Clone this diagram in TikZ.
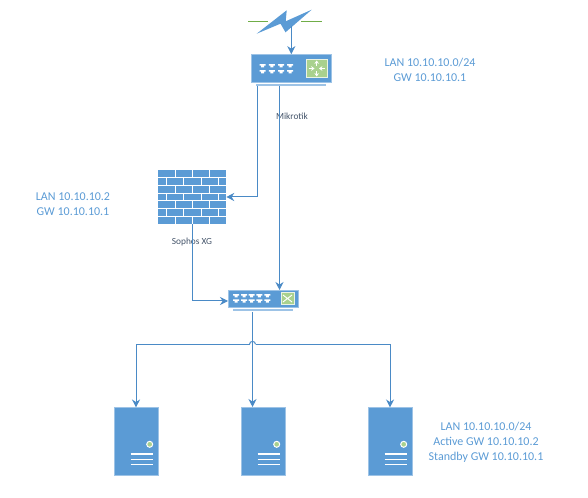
\documentclass[tikz,border=0pt]{standalone}
\usepackage{fontspec}
\setmainfont{Carlito}
\usetikzlibrary{arrows.meta}
\definecolor{boxblue}{HTML}{5B9BD5}
\definecolor{wireblue}{HTML}{4A8AC6}
\definecolor{edgeblue}{HTML}{9DC3E6}
\definecolor{leafgreen}{HTML}{A9D18E}
\definecolor{boltgreen}{HTML}{70AD47}
\definecolor{slate}{HTML}{44546A}
\begin{document}
\begin{tikzpicture}[
  x=0.75pt, y=-0.75pt,
  wire/.style={draw=wireblue, line width=0.75pt},
  feed/.style={wire, -{Stealth[length=6pt,width=6pt]}},
  unit/.style={rectangle, fill=boxblue, draw=edgeblue, line width=0.5pt, inner sep=0pt},
  bar/.style={rectangle, fill=edgeblue, inner sep=0pt, minimum height=1.5pt},
  chip/.style={rectangle, fill=leafgreen, draw=white!75!leafgreen, line width=0.75pt, inner sep=0pt},
  note/.style={align=center, text=boxblue, font=\fontsize{9}{11.25}\selectfont},
  tag/.style={text=slate, font=\fontsize{7}{8}\selectfont},
  rack/.style={unit, minimum width=33pt, minimum height=51pt},
  slot/.style={draw=white, line width=1pt},
  sign/.style={white, line width=0.8pt, -{Stealth[length=2.5pt,width=3.5pt]}},
  port/.pic={\fill[white] (-3,-1.6) -- (3,-1.6) -- (3,0) -- (1.5,0) -- (1.5,1.6) -- (-1.5,1.6) -- (-1.5,0) -- (-3,0) -- cycle;}
]
  \useasboundingbox (0,0) rectangle (588,498);

  % line symbol on top
  \coordinate (lineL) at (248,22);
  \coordinate (lineLend) at (268,22);
  \coordinate (lineR) at (301,22);
  \coordinate (lineRend) at (322,22);
  \draw[boltgreen, line width=0.75pt] (lineL) -- (lineLend) (lineR) -- (lineRend);
  \fill[boxblue] (256.7,33.7) -- (286.7,10.3) -- (285.7,21.3) -- (311.7,9.7) -- (285.5,32.3) -- (280.5,23.7) -- cycle;
  \coordinate (bolt) at (291.3,26);

  % router
  \node[unit, minimum width=60pt, minimum height=21pt] (router) at (291,68.5) {};
  \node[bar, minimum width=52.5pt] (routerbar) at (291,85.5) {};
  \node[chip, minimum width=15.75pt, minimum height=13.5pt] (routerchip) at (316.7,68.5) {};
  \foreach \x in {262.7,271.9,281,290.2}
    \foreach \y in {65.7,71.7}
      \pic at (\x,\y) {port};
  \draw[sign] (308.5,68.5) -- (314.5,68.5);
  \draw[sign] (325,68.5) -- (319,68.5);
  \draw[sign] (316.7,66) -- (316.7,60.5);
  \draw[sign] (316.7,71) -- (316.7,76.5);
  \node[tag] (mikrotik) at (292,116) {Mikrotik};

  % firewall
  \node[rectangle, fill=boxblue, inner sep=0pt, minimum width=51pt, minimum height=40.5pt] (wall) at (192,197) {};
  \foreach \i in {1,...,6}
    \draw[white, line width=0.75pt] (158,170+7.67*\i) -- (226,170+7.67*\i);
  \foreach \i in {0,2,4,6}
    \foreach \x in {175.3,192.3,209.3}
      \draw[white, line width=0.75pt] (\x,170+7.67*\i) -- (\x,170+7.67*\i+7.67);
  \foreach \i in {1,3,5}
    \foreach \x in {166,183.3,201,218.3}
      \draw[white, line width=0.75pt] (\x,170+7.67*\i) -- (\x,170+7.67*\i+7.67);
  \node[tag] (sophos) at (192,242) {Sophos XG};

  % switch
  \node[unit, minimum width=52.5pt, minimum height=12.75pt] (switch) at (263,298.5) {};
  \node[bar, minimum width=45pt] (switchbar) at (263,310.5) {};
  \node[chip, minimum width=9.75pt, minimum height=9pt] (switchchip) at (287.5,298.5) {};
  \foreach \x in {236,244,251.7,259.3,267.3}
    \foreach \y in {295.7,301}
      \pic at (\x,\y) {port};
  \draw[white, line width=0.7pt] (283,295) -- (292,302) (283,302) -- (292,295);

  % servers
  \foreach \name/\x in {srvA/136, srvB/263, srvC/390} {
    \node[rack] (\name) at (\x,441.8) {};
    \node[circle, fill=leafgreen, draw=white, line width=0.75pt, inner sep=0pt, minimum size=4.5pt] (\name dot) at (\x+13.7,444.3) {};
    \draw[slot] (\x-5.3,454) -- (\x+16.7,454);
    \draw[slot] (\x-5.3,459.3) -- (\x+16.7,459.3);
    \draw[slot] (\x-5.3,464.7) -- (\x+16.7,464.7);
  }

  % connectors
  \coordinate (routerleft) at (257,86);
  \coordinate (routerright) at (279.5,86);
  \coordinate (switchin) at (228,301);
  \coordinate (switchtop) at (279.5,290);
  \coordinate (drop) at (252.5,312);
  \coordinate (busL) at (249.5,344.3);
  \coordinate (busR) at (255.5,344.3);
  \coordinate (srvBtop) at (252.5,407);
  \draw[feed] (bolt) -- (router.north -| bolt);
  \draw[feed] (routerleft) |- (wall.east);
  \draw[feed] (routerright) -- (switchtop);
  \draw[feed] (wall.south) |- (switchin);
  \draw[feed] (drop) -- (srvBtop);
  \draw[feed] (busL) -| (srvA.north);
  \draw[feed] (busR) -| (srvC.north);
  \draw[wire] (busL) .. controls (249.5,340.5) and (255.5,340.5) .. (busR);

  % address notes
  \node[note] (lantop) at (430,70) {LAN 10.10.10.0/24\\GW 10.10.10.1};
  \node[note] (lanwall) at (73,204) {LAN 10.10.10.2\\GW 10.10.10.1};
  \node[note] (lanrack) at (486,442.5) {LAN 10.10.10.0/24\\Active GW 10.10.10.2\\Standby GW 10.10.10.1};
\end{tikzpicture}
\end{document}
